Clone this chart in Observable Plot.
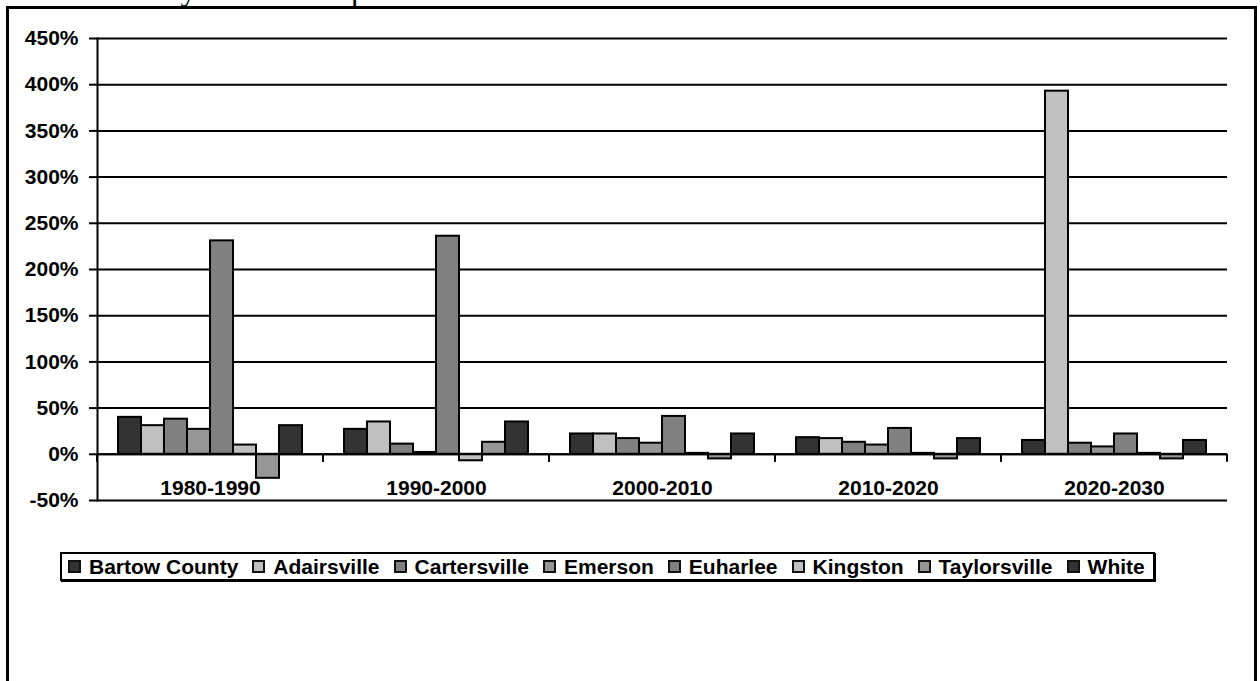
<!DOCTYPE html>
<html>
<head>
<meta charset="utf-8">
<script src="https://cdn.jsdelivr.net/npm/d3@7"></script>
<script src="https://cdn.jsdelivr.net/npm/@observablehq/plot@0.6"></script>
<style>
  html, body { margin: 0; padding: 0; background: #fff; overflow: hidden; }
  body { width: 1260px; height: 681px; position: relative; font-family: "Liberation Sans", Arial, sans-serif; }
  #title { position: absolute; left: 0; top: -27px; font-family: "Liberation Serif", "Times New Roman", serif; font-size: 32px; line-height: 32px; white-space: nowrap; color: #000; }
  #frame { position: absolute; left: 6px; top: 6px; width: 1245px; height: 720px; border: 3px solid #000; }
  #chart { position: absolute; left: 0; top: 0; }
  #legend { position: absolute; left: 60px; top: 552px; width: 1095px; height: 29px; box-sizing: border-box; border: 2px solid #000; box-shadow: 1px 1px 0 #000; background: #fff; display: flex; align-items: center; padding-left: 6px; font-weight: bold; font-size: 21px; white-space: nowrap; }
  .item { display: flex; align-items: center; margin-right: 14px; }
  .sw { width: 13px; height: 13px; box-sizing: border-box; border: 2px solid #111; margin-right: 8px; }
</style>
</head>
<body>
<div id="title">Bartow County and Municipalities</div>
<div id="frame"></div>
<div id="chart"></div>
<div id="legend"></div>
<script>
// Decade periods on the category axis
const periods = ["1980-1990", "1990-2000", "2000-2010", "2010-2020", "2020-2030"];
// Places, in the order the bars are drawn within each period
const places = ["Bartow County", "Adairsville", "Cartersville", "Emerson", "Euharlee", "Kingston", "Taylorsville", "White"];

// Percent population change per period
const bartowCounty = [40, 27, 22, 18, 15];
const adairsville  = [31, 35, 22, 17, 393];
const cartersville = [38, 11, 17, 13, 12];
const emerson      = [27, 2, 12, 10, 8];
const euharlee     = [231, 236, 41, 28, 22];
const kingston     = [10, -7, 1, 1, 1];
const taylorsville = [-26, 13, -5, -5, -5];
const white        = [31, 35, 22, 17, 15];

// Percent ticks on the value axis
const yTicks = [-50, 0, 50, 100, 150, 200, 250, 300, 350, 400, 450];

// Grey fills for each place
const fills = ["#333333", "#c0c0c0", "#808080", "#969696", "#808080", "#c0c0c0", "#969696", "#333333"];

const seriesValues = [bartowCounty, adairsville, cartersville, emerson, euharlee, kingston, taylorsville, white];
const rows = [];
periods.forEach((period, i) => {
  places.forEach((place, j) => rows.push({period, place, value: seriesValues[j][i]}));
});

// Short tick marks on the zero line at each period boundary
function periodTicks(index, {y}, values, dims) {
  const g = d3.create("svg:g").attr("stroke", "#000").attr("stroke-width", 2);
  const y0 = y(0);
  for (const x of [dims.marginLeft, dims.width - dims.marginRight]) {
    g.append("line").attr("x1", x).attr("x2", x).attr("y1", y0).attr("y2", y0 + 8);
  }
  return g.node();
}

const chart = Plot.plot({
  width: 1260,
  height: 520,
  marginLeft: 96,
  marginRight: 33,
  marginTop: 38,
  marginBottom: 20,
  style: {fontFamily: "'Liberation Sans', Arial, sans-serif", fontSize: "21px", fontWeight: "bold", color: "#000", background: "transparent"},
  fx: {domain: periods, padding: 0, axis: null},
  x: {domain: places, paddingInner: 0, paddingOuter: 0.75, axis: null},
  y: {domain: [-50, 450], axis: null},
  color: {domain: places, range: fills},
  marks: [
    Plot.gridY(yTicks, {stroke: "#000", strokeOpacity: 1, strokeWidth: 2}),
    Plot.frame({anchor: "left", facetAnchor: "left", stroke: "#000", strokeWidth: 2}),
    Plot.axisY(yTicks, {label: null, tickSize: 8, tickPadding: 11, tickFormat: d => d + "%", stroke: "#000", strokeWidth: 2, fontSize: 21, fontWeight: "bold", fill: "#000"}),
    Plot.barY(rows, {fx: "period", x: "place", y: "value", fill: "place", stroke: "#000", strokeWidth: 2}),
    Plot.ruleY([0], {stroke: "#000", strokeWidth: 2}),
    periodTicks,
    Plot.text(periods, {fx: d => d, text: d => d, frameAnchor: "bottom", lineAnchor: "bottom", dy: -6, fontSize: 21, fontWeight: "bold", fill: "#000"})
  ]
});
document.getElementById("chart").appendChild(chart);

// Legend row
const legend = d3.select("#legend");
places.forEach((place, j) => {
  const item = legend.append("div").attr("class", "item");
  item.append("div").attr("class", "sw").style("background", fills[j]);
  item.append("span").text(place);
});
</script>
</body>
</html>
